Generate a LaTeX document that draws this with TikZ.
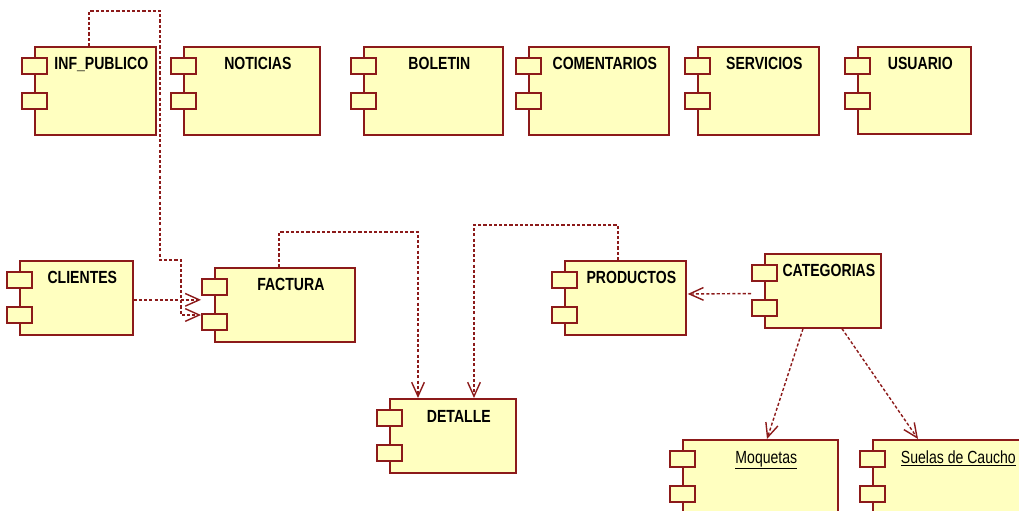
\documentclass[tikz,border=0pt]{standalone}
\usepackage{fontspec}
\usepackage{tikz}
\usetikzlibrary{arrows.meta,calc}
\newfontfamily\compfont{Liberation Sans}[FakeStretch=0.8]
\definecolor{compline}{RGB}{140,26,26}
\definecolor{compfill}{RGB}{255,255,192}

\tikzset{
  compbody/.style={draw=compline,fill=compfill,line width=1.2pt,inner sep=0pt},
  compport/.style={draw=compline,fill=compfill,line width=1.1pt,inner sep=0pt,
    minimum width=25*0.025cm,minimum height=16*0.025cm},
  comptext/.style={font=\compfont\bfseries\fontsize{12.5}{14}\selectfont,inner sep=0pt},
  dep/.style={draw=compline,line width=1pt,dash pattern=on 2.2pt off 1.5pt,
    -{Straight Barb[length=10pt,width=9pt,line width=1pt]}}
}

% component: name, left, top, width, height, label
\newcommand\component[6]{%
  \node[compbody,minimum width=#4*0.025cm,minimum height=#5*0.025cm,anchor=north west] (#1) at (#2,#3) {};
  \node[compport,anchor=north west] (#1-p1) at ($(#1.north west)+(-13,11)$) {};
  \node[compport,anchor=north west] (#1-p2) at ($(#1.north west)+(-13,46)$) {};
  \node[comptext,anchor=base] (#1-label) at ($(#1.north)+(6,24)$) {#6};
}

\begin{document}
\begin{tikzpicture}[x=0.025cm,y=-0.025cm]
\useasboundingbox (0,0) rectangle (1019,511);
\clip (0,0) rectangle (1019,511);

% top row
\component{inf}{34}{46}{121}{88}{INF\_PUBLICO}
\component{noticias}{183}{46}{136}{88}{NOTICIAS}
\component{boletin}{363}{46}{139}{88}{BOLETIN}
\component{comentarios}{528}{46}{140}{88}{COMENTARIOS}
\component{servicios}{697}{46}{121}{88}{SERVICIOS}
\component{usuario}{857}{46}{113}{87}{USUARIO}

% second row
\component{clientes}{19}{260}{113}{74}{CLIENTES}
\component{factura}{214}{267}{140}{74}{FACTURA}
\component{productos}{564}{260}{121}{74}{PRODUCTOS}
\component{categorias}{764}{253}{116}{74}{CATEGORIAS}
\component{detalle}{389}{398}{126}{74}{DETALLE}

% bottom row
\component{moquetas}{682}{439}{155}{74}{\mdseries\underline{Moquetas}}
\component{suelas}{872}{439}{159}{74}{\mdseries\underline{Suelas de Caucho}}

% dependencies
\draw[dep] ($(inf.north west)+(55,0)$) -- ++(0,-35) -| (160,260) -| (181,315)
  -- ($(factura-p2.north west)+(0,2)$);
\draw[dep] ($(clientes.east)+(0,2)$) -- ($(clientes.east -| factura-p1.west)+(0,2)$);
\draw[dep] ($(factura.north west)+(65,0)$) -- ++(0,-35) -| ($(detalle.north west)+(29,0)$);
\draw[dep] ($(productos.north west)+(54,0)$) -- ++(0,-35) -| ($(detalle.north west)+(85,0)$);
\draw[dep] ($(categorias-p1.south west)+(0,12)$) -- ($(productos.north east)+(1,34)$);
\draw[dep] ($(categorias.south west)+(39,0)$) -- ($(moquetas.north west)+(85,0)$);
\draw[dep] ($(categorias.south west)+(78,0)$) -- ($(suelas.north west)+(46,0)$);
\end{tikzpicture}
\end{document}
